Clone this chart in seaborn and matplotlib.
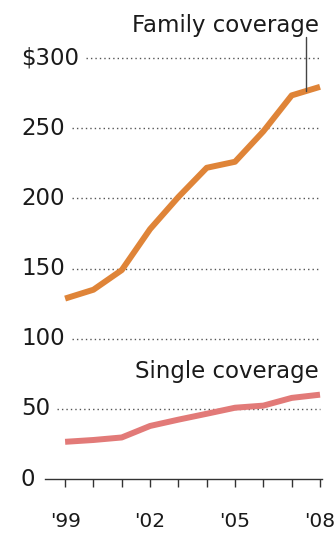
import numpy as np
import pandas as pd
import matplotlib
matplotlib.use("Agg")
import matplotlib.pyplot as plt
import matplotlib.transforms as mtransforms
import seaborn as sns

years = [1999, 2000, 2001, 2002, 2003, 2004, 2005, 2006, 2007, 2008]
family = [128.6, 134.9, 148.9, 178.1, 201.0, 221.8, 226.1, 247.8, 273.4, 279.5]
single = [26.5, 27.8, 29.6, 37.8, 42.3, 46.5, 50.8, 52.3, 57.8, 60.1]
ytick_vals = [0, 50, 100, 150, 200, 250, 300]
ytick_labels = ["0", "50", "100", "150", "200", "250", "$300"]
xtick_labels = ["'99", "", "", "'02", "", "", "'05", "", "", "'08"]

sns.set_theme(style="white")
plt.rcParams["font.family"] = ["DejaVu Sans"]

df = pd.DataFrame({"year": years * 2,
                   "value": family + single,
                   "series": ["Family coverage"] * len(years) + ["Single coverage"] * len(years)})

W, H = 336, 535
fig = plt.figure(figsize=(W / 100, H / 100), dpi=100)
ax = fig.add_axes([45 / W, (H - 479) / H, 277 / W, 449 / H])

sns.lineplot(data=df, x="year", y="value", hue="series",
             palette={"Family coverage": "#DF8438", "Single coverage": "#E27A78"},
             linewidth=4.3, legend=False, ax=ax, solid_capstyle="butt")

ax.set_xlim(1998.29, 2008.07)
ax.set_ylim(0, 320)
for s in ["top", "right", "left"]:
    ax.spines[s].set_visible(False)
ax.spines["bottom"].set_color("#333333")
ax.spines["bottom"].set_linewidth(1.0)
ax.set_xlabel("")
ax.set_ylabel("")
ax.set_yticks([])
fs = 16.5
ax.set_xticks(years)
ax.set_xticklabels(xtick_labels, fontsize=14.5, color="#1a1a1a")
ax.tick_params(axis="x", direction="out", length=6, width=1.0, color="#333333", pad=18, bottom=True)
for lbl in ax.get_xticklabels():
    if lbl.get_text() == "'08":
        lbl.set_horizontalalignment("center")

trans = mtransforms.blended_transform_factory(fig.transFigure, ax.transData)
texts = []
for v, lab in zip(ytick_vals, ytick_labels):
    t = ax.text(21 / W, v, lab, transform=trans, ha="left", va="center",
                fontsize=fs, color="#1a1a1a")
    texts.append((v, t))

fig.canvas.draw()
renderer = fig.canvas.get_renderer()
inv = ax.transData.inverted()
for v, t in texts:
    if v == 0:
        continue
    bb = t.get_window_extent(renderer)
    x0 = inv.transform((bb.x1 + 7, 0))[0]
    ax.plot([x0, years[-1]], [v, v], linestyle=(0, (1, 2.2)), color="#555555",
            linewidth=1.0, zorder=0.5)

# series labels
ax.text(2007.95, 318.6, "Family coverage", ha="right", va="baseline",
        fontsize=fs, color="#1a1a1a", clip_on=False)
ax.text(2007.95, 72, "Single coverage", ha="right", va="baseline",
        fontsize=fs, color="#1a1a1a")

# leader line
lx = 2007.5
ly = np.interp(lx, years, family)
ax.plot([lx, lx], [ly, 315], color="#444444", linewidth=1.0, zorder=3, clip_on=False)

fig.savefig("out.png", dpi=100)
